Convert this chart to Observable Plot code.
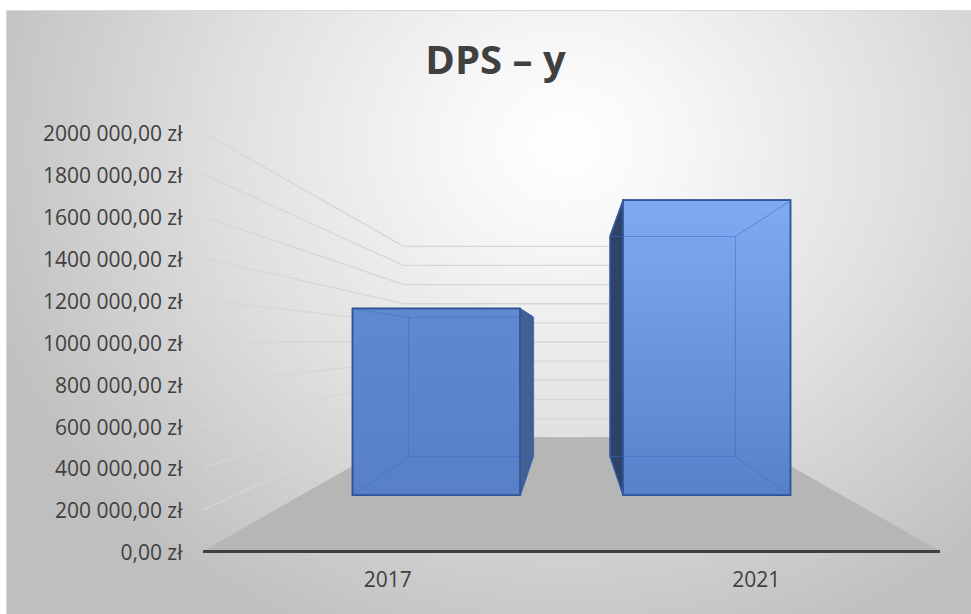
<!DOCTYPE html>
<html>
<head>
<meta charset="utf-8">
<script src="https://cdn.jsdelivr.net/npm/d3@7"></script>
<script src="https://cdn.jsdelivr.net/npm/@observablehq/plot@0.6"></script>
<style>
  html, body { margin: 0; padding: 0; background: #ffffff; }
  #chart { position: relative; width: 971px; height: 614px; overflow: hidden; }
  #bg {
    position: absolute; left: 6px; top: 10px; right: 0; bottom: 0;
    border-left: 1px solid #d9d9d9; border-top: 1px solid #d9d9d9;
    background: radial-gradient(ellipse 64% 90% at 58% 22%, #ffffff 0%, #f7f7f7 18%, #e0e0e0 55%, #bfbfbf 100%);
  }
  #title {
    position: absolute; left: 0; top: 39px; width: 991px; text-align: center;
    font-family: "Open Sans", sans-serif; font-weight: 700; font-size: 40px;
    line-height: 40px; color: #404040; margin: 0;
  }
  #plot { position: absolute; left: 0; top: 0; }
</style>
</head>
<body>
<div id="chart">
  <div id="bg"></div>
  <div id="plot"></div>
  <h2 id="title"></h2>
</div>
<script>
// ---- data ----
const title = "DPS – y";
const categories = ["2017", "2021"];
const values = [1215000, 1920000];
const yTicks = [0, 200000, 400000, 600000, 800000, 1000000, 1200000, 1400000, 1600000, 1800000, 2000000];
const yTickLabels = ["0,00 zł", "200 000,00 zł", "400 000,00 zł", "600 000,00 zł", "800 000,00 zł",
  "1000 000,00 zł", "1200 000,00 zł", "1400 000,00 zł", "1600 000,00 zł", "1800 000,00 zł", "2000 000,00 zł"];

// ---- 3D layout (perspective) parameters ----
const eyeX = 0.5;          // vanishing point, in category units
const eyeY = 1000000;      // eye level, in value units
const depthK = 1.19;       // perspective strength (back wall at depth 1)
const floorX = [-0.5, 1.5];
const barHalfW = 0.31;
const barZ = [0.305, 0.695];
const sideColors = { left: "#2f4268", right: "#445f91" };
const edgeColor = "#2f5597";

function proj(X, Y, z) {
  const f = 1 / (1 + depthK * z);
  return { x: eyeX + (X - eyeX) * f, y: eyeY + (Y - eyeY) * f };
}

document.getElementById("title").textContent = title;

// gridlines: left wall + back wall
const grid = [];
yTicks.forEach(t => {
  [proj(floorX[0], t, 0), proj(floorX[0], t, 1), proj(floorX[1], t, 1)]
    .forEach(p => grid.push({ key: t, x: p.x, y: p.y }));
});

// floor
const floor = [0, 1].map(z => {
  const a = proj(floorX[0], 0, z), b = proj(floorX[1], 0, z);
  return { y: a.y, x1: a.x, x2: b.x };
});

// bars
const fronts = [], sides = [], inner = [];
values.forEach((v, i) => {
  const X0 = i - barHalfW, X1 = i + barHalfW;
  const [zf, zb] = barZ;
  const F00 = proj(X0, 0, zf), F10 = proj(X1, 0, zf), F01 = proj(X0, v, zf), F11 = proj(X1, v, zf);
  const B00 = proj(X0, 0, zb), B10 = proj(X1, 0, zb), B01 = proj(X0, v, zb), B11 = proj(X1, v, zb);
  fronts.push({ i, x1: F00.x, x2: F10.x, y1: F00.y, y2: F01.y });
  if (X1 < eyeX) {
    sides.push({ key: i, x: F10.x, y1: F10.y, y2: F11.y, fill: sideColors.right });
    sides.push({ key: i, x: B10.x, y1: B10.y, y2: B11.y, fill: sideColors.right });
  } else if (X0 > eyeX) {
    sides.push({ key: i, x: F00.x, y1: F00.y, y2: F01.y, fill: sideColors.left });
    sides.push({ key: i, x: B00.x, y1: B00.y, y2: B01.y, fill: sideColors.left });
  }
  [[B00, B10], [B10, B11], [B11, B01], [B01, B00], [F00, B00], [F10, B10], [F01, B01], [F11, B11]]
    .forEach(([p, q]) => inner.push({ x1: p.x, y1: p.y, x2: q.x, y2: q.y }));
});

const svg = Plot.plot({
  width: 971,
  height: 614,
  marginLeft: 203,
  marginRight: 31,
  marginTop: 132,
  marginBottom: 63,
  x: { domain: floorX, axis: null },
  y: { domain: [0, 2000000], axis: null },
  color: { type: "identity" },
  style: { background: "transparent", fontFamily: "'Open Sans', sans-serif", color: "#404040" },
  marks: [
    Plot.line(grid, { x: "x", y: "y", z: "key", stroke: "#d6d6d6", strokeWidth: 1.3 }),
    Plot.areaX(floor, { y: "y", x1: "x1", x2: "x2", fill: "#b6b6b6" }),
    Plot.areaY(sides, { x: "x", y1: "y1", y2: "y2", z: "key", fill: "fill", stroke: edgeColor, strokeWidth: 1 }),
    ...fronts.map(f => Plot.rect([f], { x1: "x1", x2: "x2", y1: "y1", y2: "y2",
      fill: `url(#barGrad${f.i})`, stroke: edgeColor, strokeWidth: 1.5 })),
    Plot.link(inner, { x1: "x1", y1: "y1", x2: "x2", y2: "y2", stroke: "#3a6bc4", strokeOpacity: 0.55, strokeWidth: 1 }),
    ...fronts.map(f => Plot.rect([f], { x1: "x1", x2: "x2", y1: "y1", y2: "y2",
      fill: "none", stroke: edgeColor, strokeWidth: 1.5 })),
    Plot.ruleY([0], { stroke: "#404040", strokeWidth: 3 }),
    Plot.text(yTicks, { x: floorX[0], y: d => d, text: (d, i) => yTickLabels[i],
      textAnchor: "end", dx: -21, dy: 2, fontSize: 21, fill: "#404040" }),
    Plot.text(categories, { x: (d, i) => i, y: 0, text: d => d,
      textAnchor: "middle", dy: 29, fontSize: 21, fill: "#404040" })
  ]
});

// gradients for bar front faces
const defs = d3.select(svg).insert("defs", ":first-child");
const gradStops = [["#5f8ad0", "#5780c6"], ["#80abf2", "#5781c8"]];
gradStops.forEach(([top, bottom], i) => {
  const g = defs.append("linearGradient").attr("id", `barGrad${i}`)
    .attr("x1", 0).attr("y1", 0).attr("x2", 0).attr("y2", 1);
  g.append("stop").attr("offset", "0%").attr("stop-color", top);
  g.append("stop").attr("offset", "100%").attr("stop-color", bottom);
});

document.getElementById("plot").appendChild(svg);
</script>
</body>
</html>
